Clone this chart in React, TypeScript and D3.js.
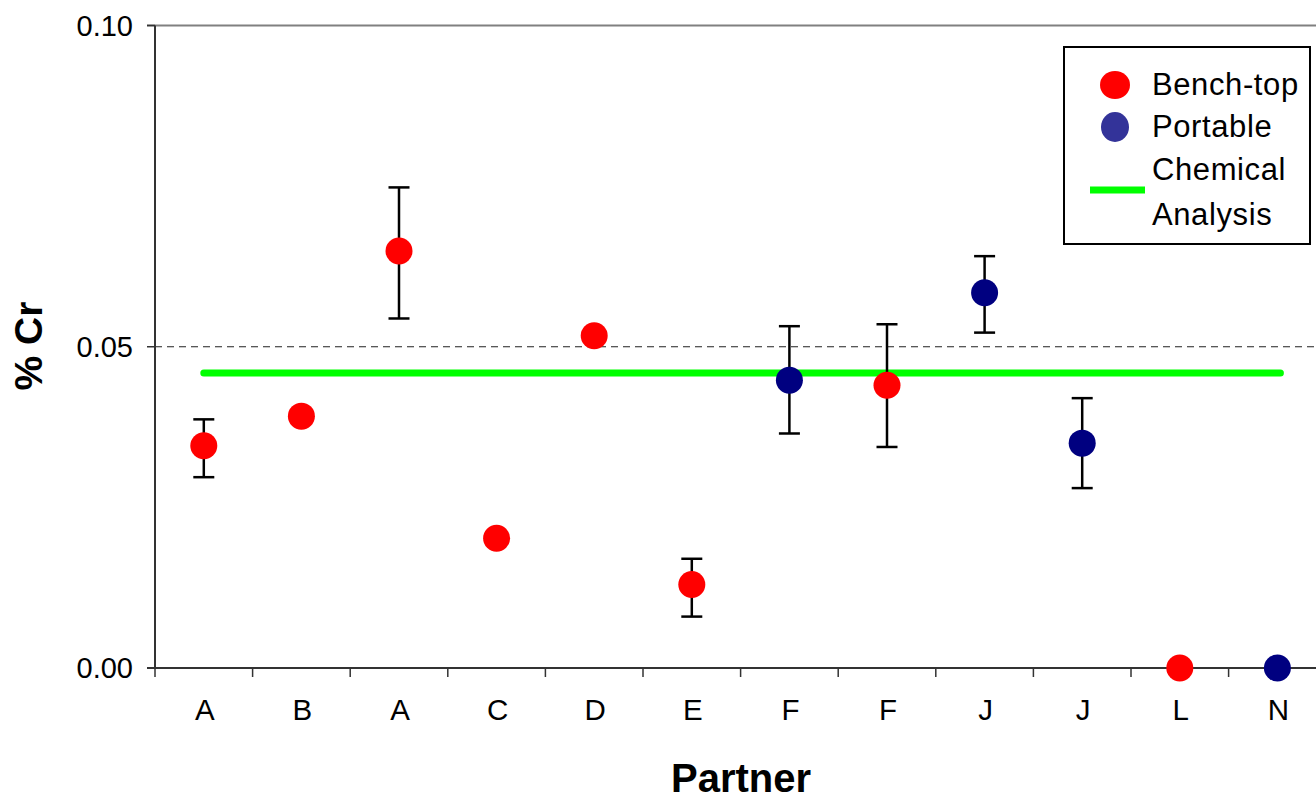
import React from "react";
import * as d3 from "d3";

const categories = ["A", "B", "A", "C", "D", "E", "F", "F", "J", "J", "L", "N"];
const benchTop: (number | null)[] = [0.0346, 0.0392, 0.0649, 0.0202, 0.0517, 0.013, null, 0.044, null, null, 0, null];
const portable: (number | null)[] = [null, null, null, null, null, null, 0.0448, null, 0.0584, 0.035, null, 0];
const errLow: (number | null)[] = [0.0297, null, 0.0544, null, null, 0.008, 0.0365, 0.0344, 0.0522, 0.028, null, null];
const errHigh: (number | null)[] = [0.0387, null, 0.0748, null, null, 0.017, 0.0532, 0.0535, 0.0641, 0.042, null, null];
const chemicalAnalysis = 0.0459;
const yTicks = [0, 0.05, 0.1];
const legendLabels = ["Bench-top", "Portable", "Chemical", "Analysis"];

const W = 1316;
const H = 799;
const left = 155;
const top = 25.5;
const bottom = 668;
const bandW = 97.6;
const FONT = "'Liberation Sans', Arial, sans-serif";

export default function App() {
  const idx = categories.map((_, i) => i);
  const x = d3.scaleBand<number>().domain(idx).range([left, left + bandW * categories.length]);
  const y = d3.scaleLinear().domain([0, 0.1]).range([bottom, top]);
  const cx = (i: number) => (x(i) as number) + x.bandwidth() / 2;
  const xRight = left + bandW * categories.length;

  const redC = "#FF0000";
  const blueC = "#000080";
  const green = "#00FF00";

  return (
    <svg width={W} height={H} style={{ position: "absolute", left: 0, top: 0, background: "#fff" }} fontFamily={FONT}>
      {/* top border */}
      <line x1={147} x2={xRight} y1={y(0.1)} y2={y(0.1)} stroke="#808080" strokeWidth={2} />
      {/* dashed gridline */}
      <line x1={left} x2={xRight} y1={y(0.05)} y2={y(0.05)} stroke="#222" strokeWidth={1.2} strokeDasharray="7,5" />
      {/* y axis */}
      <line x1={left} x2={left} y1={y(0.1)} y2={bottom} stroke="#333" strokeWidth={2} />
      {yTicks.map((t) => (
        <g key={t}>
          <line x1={147} x2={left} y1={y(t)} y2={y(t)} stroke="#333" strokeWidth={1.5} />
          <text x={133} y={y(t) + 10} fontSize={29} textAnchor="end" fill="#000">
            {d3.format(".2f")(t)}
          </text>
        </g>
      ))}
      {/* x axis */}
      <line x1={147} x2={xRight} y1={bottom} y2={bottom} stroke="#333" strokeWidth={2} />
      {idx.map((i) => (
        <line key={"t" + i} x1={x(i) as number} x2={x(i) as number} y1={bottom} y2={bottom + 9} stroke="#333" strokeWidth={1.5} />
      ))}
      {idx.map((i) => (
        <text key={"l" + i} x={cx(i) + 1} y={720} fontSize={29.5} textAnchor="middle" fill="#000">
          {categories[i]}
        </text>
      ))}
      {/* chemical analysis line */}
      <line x1={cx(0)} x2={cx(categories.length - 1) + 3} y1={y(chemicalAnalysis)} y2={y(chemicalAnalysis)} stroke={green} strokeWidth={7} strokeLinecap="round" />
      {/* error bars */}
      {idx.map((i) =>
        errLow[i] != null && errHigh[i] != null ? (
          <g key={"e" + i} stroke="#000" strokeWidth={2.5}>
            <line x1={cx(i)} x2={cx(i)} y1={y(errLow[i] as number)} y2={y(errHigh[i] as number)} />
            <line x1={cx(i) - 10.5} x2={cx(i) + 10.5} y1={y(errLow[i] as number)} y2={y(errLow[i] as number)} />
            <line x1={cx(i) - 10.5} x2={cx(i) + 10.5} y1={y(errHigh[i] as number)} y2={y(errHigh[i] as number)} />
          </g>
        ) : null
      )}
      {/* points */}
      {idx.map((i) =>
        benchTop[i] != null ? <circle key={"b" + i} cx={cx(i)} cy={y(benchTop[i] as number)} r={13.5} fill={redC} /> : null
      )}
      {idx.map((i) =>
        portable[i] != null ? <circle key={"p" + i} cx={cx(i)} cy={y(portable[i] as number)} r={13.5} fill={blueC} /> : null
      )}
      {/* axis titles */}
      <text x={741} y={792} fontSize={40} fontWeight="bold" textAnchor="middle" fill="#000">
        Partner
      </text>
      <text transform="translate(42,346) rotate(-90)" fontSize={39} fontWeight="bold" textAnchor="middle" fill="#000">
        % Cr
      </text>
      {/* legend */}
      <rect x={1064} y={47} width={246} height={197} fill="#fff" stroke="#000" strokeWidth={2} />
      <ellipse cx={1115} cy={85} rx={15} ry={14} fill={redC} />
      <ellipse cx={1115} cy={127} rx={14} ry={15} fill="#333399" />
      <line x1={1090} x2={1145} y1={190} y2={190} stroke={green} strokeWidth={7} />
      <g fontSize={31} letterSpacing={0.6} fill="#000">
        <text x={1152} y={95}>{legendLabels[0]}</text>
        <text x={1152} y={137}>{legendLabels[1]}</text>
        <text x={1152} y={180}>{legendLabels[2]}</text>
        <text x={1152} y={225}>{legendLabels[3]}</text>
      </g>
    </svg>
  );
}
